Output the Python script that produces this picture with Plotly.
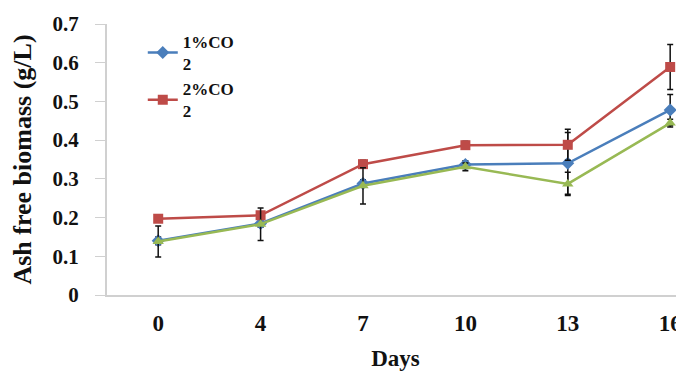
import plotly.graph_objects as go

days = ["0", "4", "7", "10", "13", "16"]
co2_1 = [0.140, 0.185, 0.288, 0.337, 0.340, 0.478]
co2_2 = [0.197, 0.206, 0.338, 0.387, 0.388, 0.589]
co2_3 = [0.138, 0.183, 0.282, 0.331, 0.287, 0.444]
err_1 = [0.01, 0.01, 0.01, 0.01, 0.08, 0.04]
err_2 = [0.005, 0.005, 0.01, 0.01, 0.04, 0.058]
err_3 = [0.04, 0.042, 0.047, 0.01, 0.03, 0.01]
names = ["1%CO<br>2", "2%CO<br>2", "3%CO<br>2"]

xpos = list(range(len(days)))
font = "Liberation Serif, Times New Roman, serif"

fig = go.Figure()
series = [
    (co2_1, err_1, names[0], "#4a7ebb", "diamond", True),
    (co2_2, err_2, names[1], "#be4b48", "square", True),
    (co2_3, err_3, names[2], "#98b954", "triangle-up", False),
]
for vals, errs, nm, col, sym, show in series:
    fig.add_trace(go.Scatter(
        x=xpos, y=vals, name=nm, mode="lines+markers",
        line=dict(color=col, width=2.5),
        marker=dict(symbol=sym, size=10, color=col),
        error_y=dict(type="data", array=errs, visible=True, color="#111111",
                     thickness=1.5, width=3),
        showlegend=show,
    ))

# the page body adds an 8px offset, so the figure is 8px smaller than the window
fig.update_layout(
    width=676, height=363,
    margin=dict(l=99, r=0, t=16, b=76),
    paper_bgcolor="white", plot_bgcolor="white",
    font=dict(family=font, color="#111111", size=19, weight="bold"),
    legend=dict(x=0.062, y=1.0, xanchor="left", yanchor="top",
                traceorder="normal", font=dict(size=17, family=font, weight="bold"),
                bgcolor="rgba(0,0,0,0)", tracegroupgap=0, itemwidth=30),
    xaxis=dict(tickmode="array", tickvals=xpos, ticktext=days,
               range=[-0.5, 5.135], showgrid=False, zeroline=False,
               showline=True, linecolor="#d0d0d0", linewidth=2, ticks="",
               automargin=False, ticklabelstandoff=6,
               title=dict(text="Days", font=dict(size=23, family=font, weight="bold"), standoff=16),
               tickfont=dict(size=23, family=font, weight="bold")),
    yaxis=dict(range=[0, 0.7], showgrid=False, zeroline=False,
               showline=True, linecolor="#d0d0d0", linewidth=2,
               ticks="outside", ticklen=10, tickcolor="#d0d0d0", tickwidth=1,
               ticklabelstandoff=12, automargin=False,
               tickvals=[0, 0.1, 0.2, 0.3, 0.4, 0.5, 0.6, 0.7],
               ticktext=["0", "0.1", "0.2", "0.3", "0.4", "0.5", "0.6", "0.7"],
               title=dict(text="Ash free biomass (g/L)", font=dict(size=26, family=font, weight="bold"), standoff=18),
               tickfont=dict(size=21, family=font, weight="bold")),
)
fig.write_html("out.html")
